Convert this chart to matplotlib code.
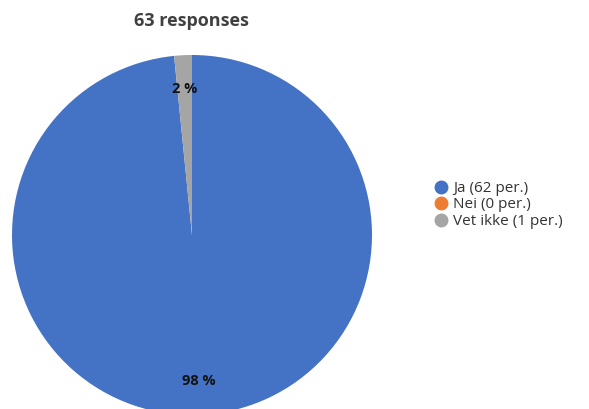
import numpy as np
import matplotlib.pyplot as plt
from matplotlib.lines import Line2D

plt.rcParams['font.family'] = ['Open Sans', 'DejaVu Sans']

categories = ['Ja', 'Nei', 'Vet ikke']
counts = [62, 0, 1]
colors = ['#4472C4', '#ED7D31', '#A5A5A5']
title = '63 responses'

total = sum(counts)

W, H = 589, 409
fig = plt.figure(figsize=(W / 100, H / 100), dpi=100, facecolor='white')
# pie centre ~ (192, 235) px, radius ~180 px
ax = fig.add_axes([12 / W, (H - 415) / H, 360 / W, 360 / H])


def pct_label(p):
    if p < 0.5:
        return ''
    return f'{round(p):.0f} %'


wedges, texts, autotexts = ax.pie(
    counts, colors=colors, startangle=90, counterclock=False,
    autopct=pct_label, pctdistance=0.81, radius=1.0,
    textprops=dict(fontsize=10.5, fontweight='bold', color='#111111'))
ax.set_xlim(-1, 1)
ax.set_ylim(-1, 1)
ax.set_aspect('equal')
ax.set_axis_off()

fig.text(191 / W, 1 - 21 / H, title, ha='center', va='center',
         fontsize=13, fontweight='bold', color='#404040')

handles = [Line2D([0], [0], marker='o', linestyle='', markersize=9,
                  markerfacecolor=c, markeredgecolor=c) for c in colors]
labels = [f'{c} ({n} per.)' for c, n in zip(categories, counts)]
fig.legend(handles, labels, loc='center left',
           bbox_to_anchor=(423 / W, 1 - 205 / H), frameon=False,
           fontsize=11, handletextpad=0.15, labelspacing=0.1,
           handlelength=1.3, borderpad=0, labelcolor='#333333')

fig.savefig('out.png', dpi=100, facecolor='white')
